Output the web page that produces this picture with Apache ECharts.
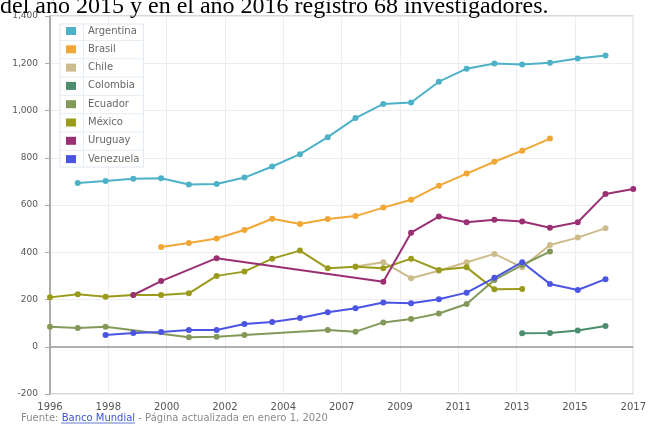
<!DOCTYPE html>
<html>
<head>
<meta charset="utf-8">
<script src="https://cdn.jsdelivr.net/npm/echarts@6/dist/echarts.min.js"></script>
<style>
html,body{margin:0;padding:0;background:#fff;}
#chart{width:649px;height:425px;}
</style>
</head>
<body>
<div id="chart"></div>
<script>
// ---- data (researchers per million people) ----
const countries = ['Argentina','Brasil','Chile','Colombia','Ecuador','México','Uruguay','Venezuela'];
const colors = ['#4db2c7','#f1a736','#cdbb8c','#4b8d6c','#83995a','#9a9a1c','#9a2f74','#4b55e2'];

const argentinaYears = [1997,1998,1999,2000,2001,2002,2003,2004,2005,2006,2007,2008,2009,2010,2011,2012,2013,2014,2015,2016];
const argentinaValues = [693,702,711,713,687,689,716,763,815,887,968,1028,1034,1122,1177,1199,1195,1202,1220,1233];

const brasilYears = [2000,2001,2002,2003,2004,2005,2006,2007,2008,2009,2010,2011,2012,2013,2014];
const brasilValues = [422,439,458,494,542,520,541,553,589,622,682,733,783,830,881];

const chileYears = [2007,2008,2009,2010,2011,2012,2013,2014,2015,2016];
const chileValues = [340,358,290,322,358,393,336,431,462,502];

const colombiaYears = [2013,2014,2015,2016];
const colombiaValues = [57,58,69,88];

const ecuadorYears = [1996,1997,1998,2001,2002,2003,2006,2007,2008,2009,2010,2011,2012,2013,2014];
const ecuadorValues = [85,79,85,40,42,50,71,64,103,117,141,181,283,346,403];

const mexicoYears = [1996,1997,1998,1999,2000,2001,2002,2003,2004,2005,2006,2007,2008,2009,2010,2011,2012,2013];
const mexicoValues = [209,222,212,219,219,226,300,318,373,407,332,339,332,373,325,336,243,244];

const uruguayYears = [1999,2000,2002,2008,2009,2010,2011,2012,2013,2014,2015,2016,2017];
const uruguayValues = [219,278,375,275,483,551,527,538,530,504,527,647,668];

const venezuelaYears = [1998,1999,2000,2001,2002,2003,2004,2005,2006,2007,2008,2009,2010,2011,2012,2013,2014,2015,2016];
const venezuelaValues = [50,58,62,71,71,96,105,122,146,163,187,184,201,229,292,358,266,240,286];

const startYear = 1996;
const yTicks = { min: -200, max: 1400, step: 200 };
const xSpan = { min: 0, max: 21, step: 2.1 }; // years since startYear

const titleText = 'del año 2015 y en el año 2016 registró 68 investigadores.';
const footerPrefix = 'Fuente: ';
const footerLink = 'Banco Mundial';
const footerSuffix = ' - Página actualizada en enero 1, 2020';

// ---- build ----
const seriesYears = [argentinaYears, brasilYears, chileYears, colombiaYears, ecuadorYears, mexicoYears, uruguayYears, venezuelaYears];
const seriesValues = [argentinaValues, brasilValues, chileValues, colombiaValues, ecuadorValues, mexicoValues, uruguayValues, venezuelaValues];

const series = countries.map((name, i) => ({
  name: name,
  type: 'line',
  data: seriesYears[i].map((y, k) => [y - startYear, seriesValues[i][k]]),
  symbol: 'circle',
  symbolSize: 6,
  lineStyle: { width: 2, color: colors[i] },
  itemStyle: { color: colors[i] },
  z: 3
}));
series[0].markLine = {
  silent: true, symbol: 'none', label: { show: false },
  lineStyle: { color: '#9a9a9a', width: 1.5, type: 'solid' },
  data: [{ yAxis: 0 }], z: 2
};

const legendSep = [];
for (let k = 0; k < 7; k++) {
  legendSep.push({ type: 'line', shape: { x1: 60, y1: 40.5 + 18.3 * k, x2: 144, y2: 40.5 + 18.3 * k }, style: { stroke: '#e6edf4', lineWidth: 1 }, z: 20 });
}
legendSep.push({ type: 'line', shape: { x1: 83.5, y1: 24, x2: 83.5, y2: 167 }, style: { stroke: '#e6edf4', lineWidth: 1 }, z: 20 });

const chart = echarts.init(document.getElementById('chart'), null, { renderer: 'canvas' });
chart.setOption({
  animation: false,
  backgroundColor: '#ffffff',
  color: colors,
  grid: { left: 50, right: 11, top: 16, bottom: 31, show: true, borderColor: '#b3b3b3', borderWidth: 1, backgroundColor: 'transparent' },
  legend: {
    orient: 'vertical', left: 60, top: 24,
    icon: 'rect', itemWidth: 10, itemHeight: 8, itemGap: 6.3,
    padding: [1, 4, 2, 6],
    backgroundColor: '#ffffff', borderColor: '#dfe7ef', borderWidth: 1,
    textStyle: { fontFamily: 'DejaVu Sans', fontSize: 10, color: '#666', lineHeight: 12, padding: [0, 0, 0, 7] },
    data: countries, z: 10
  },
  xAxis: {
    type: 'value', min: xSpan.min, max: xSpan.max, interval: xSpan.step,
    axisLine: { show: false }, axisTick: { show: false },
    axisLabel: { fontFamily: 'DejaVu Sans', fontSize: 10, color: '#555', margin: 8, formatter: v => String(Math.round(startYear + v)) },
    splitLine: { show: true, lineStyle: { color: '#ececf2', width: 1 } }
  },
  yAxis: {
    type: 'value', min: yTicks.min, max: yTicks.max, interval: yTicks.step,
    axisLine: { show: true, onZero: false, lineStyle: { color: '#9a9a9a', width: 1.5 } },
    axisTick: { show: true, length: 5, lineStyle: { color: '#aaa' } },
    axisLabel: { fontFamily: 'DejaVu Sans', fontSize: 9, color: '#555', margin: 12, formatter: v => v.toLocaleString('en-US') },
    splitLine: { show: true, lineStyle: { color: '#ececf2', width: 1 } }
  },
  series: series,
  graphic: [
    { type: 'text', left: 0, top: -5, z: 30, style: { text: titleText, font: '24px "Liberation Serif"', fill: '#000' } },
    { type: 'text', left: 21, top: 413, z: 30, style: {
      text: '{a|' + footerPrefix + '}{b|' + footerLink + '}{a|' + footerSuffix + '}',
      rich: {
        a: { fontFamily: 'DejaVu Sans', fontSize: 10, fill: '#8a8a8a', color: '#8a8a8a' },
        b: { fontFamily: 'DejaVu Sans', fontSize: 10, fill: '#3a55d0', color: '#3a55d0' }
      } } },
    { type: 'line', shape: { x1: 61, y1: 423, x2: 135, y2: 423 }, style: { stroke: '#3a55d0', lineWidth: 0.8 }, z: 30 }
  ].concat(legendSep)
});
</script>
</body>
</html>
